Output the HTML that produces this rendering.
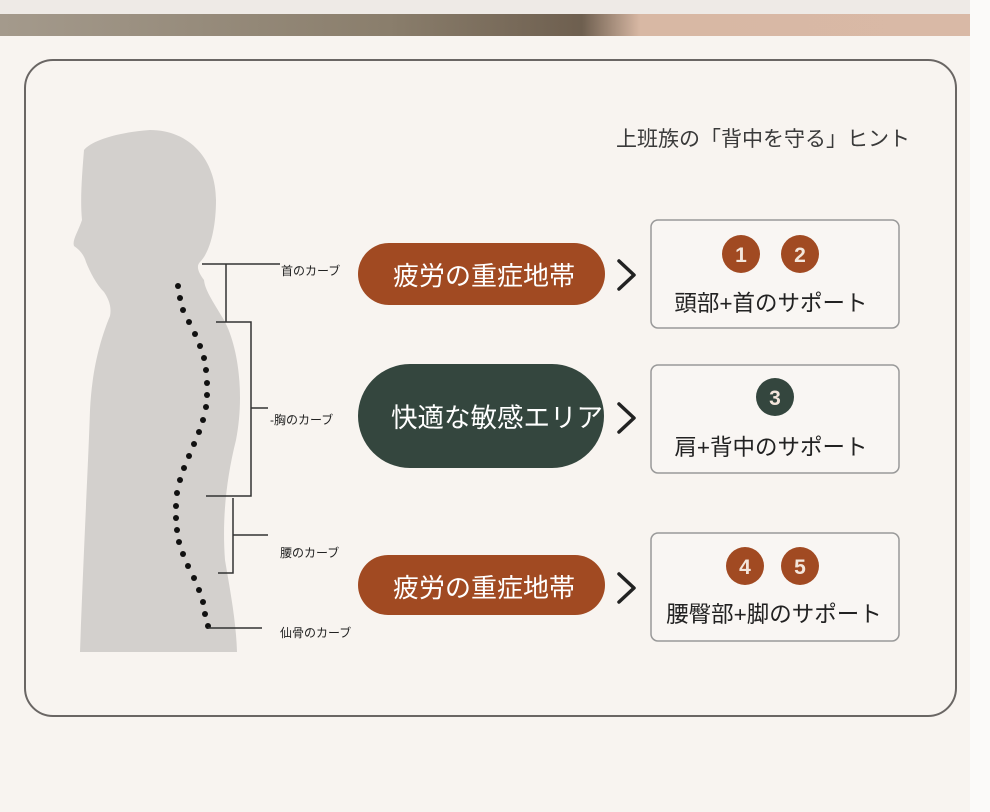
<!DOCTYPE html>
<html><head><meta charset="utf-8"><style>
html,body{margin:0;padding:0;background:#f8f4f0;}
svg{display:block;}
text{font-family:"Liberation Sans","Noto Sans CJK JP",sans-serif;}
</style></head><body>
<svg width="990" height="812" viewBox="0 0 990 812" xmlns="http://www.w3.org/2000/svg">
<defs>
<linearGradient id="ban" x1="0" x2="1" y1="0" y2="0">
<stop offset="0" stop-color="#a49a8c"/><stop offset="0.4" stop-color="#8a7e6c"/><stop offset="0.6" stop-color="#6e5f4f"/><stop offset="0.66" stop-color="#d8b8a4"/><stop offset="1" stop-color="#d9b9a6"/>
</linearGradient>
</defs>
<rect x="0" y="0" width="990" height="812" fill="#f8f4f0"/>
<rect x="0" y="0" width="990" height="14" fill="#eeeae6"/>
<rect x="0" y="14" width="970" height="22" fill="url(#ban)"/>
<rect x="970" y="0" width="20" height="812" fill="#fbfaf9"/>
<rect x="25" y="60" width="931" height="656" rx="28" fill="#f8f4f0" stroke="#6a6664" stroke-width="2"/>
<text x="910" y="146" font-size="21" fill="#3a3a3a" text-anchor="end">上班族の「背中を守る」ヒント</text>
<path fill="#d3d0cd" d="M150,130 C120,132 92,140 84,150 C82,175 80,200 82,220 C78,232 72,240 74,246 C80,250 84,255 86,262 C90,272 96,284 104,292 C108,298 112,306 110,316 C100,340 92,370 90,410 C88,470 84,540 80,652 L237,652 C236,620 230,590 225,560 C222,520 226,480 236,440 C244,400 240,350 224,320 C212,300 205,290 204,280 C198,272 196,266 200,262 C210,252 216,228 216,200 C216,160 190,130 150,130 Z"/>
<g fill="#111">
<circle cx="178" cy="286" r="3"/><circle cx="180" cy="298" r="3"/><circle cx="183" cy="310" r="3"/><circle cx="189" cy="322" r="3"/><circle cx="195" cy="334" r="3"/><circle cx="200" cy="346" r="3"/><circle cx="204" cy="358" r="3"/><circle cx="206" cy="370" r="3"/><circle cx="207" cy="383" r="3"/><circle cx="207" cy="395" r="3"/><circle cx="206" cy="407" r="3"/><circle cx="203" cy="420" r="3"/><circle cx="199" cy="432" r="3"/><circle cx="194" cy="444" r="3"/><circle cx="189" cy="456" r="3"/><circle cx="184" cy="468" r="3"/><circle cx="180" cy="480" r="3"/><circle cx="177" cy="493" r="3"/><circle cx="176" cy="506" r="3"/><circle cx="176" cy="518" r="3"/><circle cx="177" cy="530" r="3"/><circle cx="179" cy="542" r="3"/><circle cx="183" cy="554" r="3"/><circle cx="188" cy="566" r="3"/><circle cx="194" cy="578" r="3"/><circle cx="199" cy="590" r="3"/><circle cx="203" cy="602" r="3"/><circle cx="205" cy="614" r="3"/><circle cx="208" cy="626" r="3"/>
</g>
<g stroke="#333" stroke-width="1.5" fill="none">
<path d="M202,264 H280"/><path d="M226,264 V322"/>
<path d="M216,322 H251 V496 H206"/><path d="M251,408 H268"/>
<path d="M233,498 V573 H218"/><path d="M233,535 H268"/>
<path d="M208,628 H262"/>
</g>
<g font-size="12" fill="#222">
<text x="281" y="275">首のカーブ</text>
<text x="270" y="424">-胸のカーブ</text>
<text x="280" y="557">腰のカーブ</text>
<text x="280" y="637">仙骨のカーブ</text>
</g>
<rect x="358" y="243" width="247" height="62" rx="31" fill="#a14a22"/>
<text x="484" y="285" font-size="26" fill="#fff" text-anchor="middle">疲労の重症地帯</text>
<rect x="358" y="364" width="246" height="104" rx="52" fill="#34463e"/>
<text x="497" y="427" font-size="26.5" fill="#fff" text-anchor="middle">快適な敏感エリア</text>
<rect x="358" y="555" width="247" height="60" rx="30" fill="#a14a22"/>
<text x="484" y="597" font-size="26" fill="#fff" text-anchor="middle">疲労の重症地帯</text>
<g stroke="#222" stroke-width="3.5" fill="none" stroke-linecap="round" stroke-linejoin="round">
<path d="M619,261 L634,275 L619,289"/>
<path d="M619,404 L634,418 L619,432"/>
<path d="M619,574 L634,588 L619,602"/>
</g>
<g fill="#f9f6f3" stroke="#999" stroke-width="1.5">
<rect x="651" y="220" width="248" height="108" rx="7"/>
<rect x="651" y="365" width="248" height="108" rx="7"/>
<rect x="651" y="533" width="248" height="108" rx="7"/>
</g>
<circle cx="741" cy="254" r="19" fill="#a14a22"/><circle cx="800" cy="254" r="19" fill="#a14a22"/>
<circle cx="775" cy="397" r="19" fill="#34463e"/>
<circle cx="745" cy="566" r="19" fill="#a14a22"/><circle cx="800" cy="566" r="19" fill="#a14a22"/>
<g font-size="21" font-weight="bold" fill="#f3e6dc" text-anchor="middle">
<text x="741" y="262">1</text><text x="800" y="262">2</text>
<text x="775" y="405">3</text>
<text x="745" y="574">4</text><text x="800" y="574">5</text>
</g>
<g font-size="22.5" fill="#222" text-anchor="middle">
<text x="771" y="311">頭部+首のサポート</text>
<text x="771" y="455">肩+背中のサポート</text>
<text x="774" y="622">腰臀部+脚のサポート</text>
</g>
</svg>
</body></html>
